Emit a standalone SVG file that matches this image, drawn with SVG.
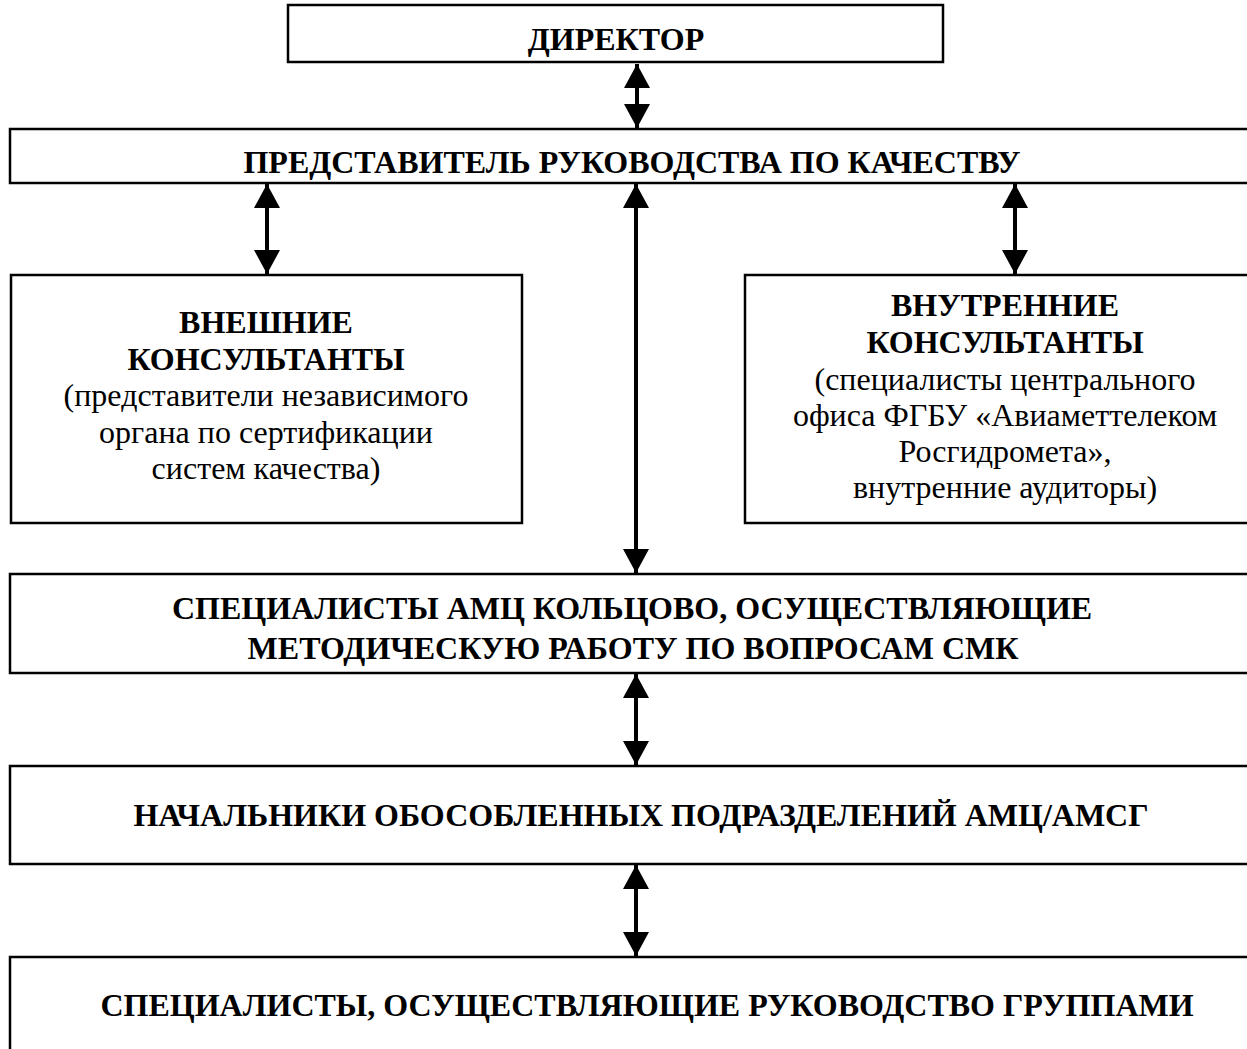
<svg xmlns="http://www.w3.org/2000/svg" width="1247" height="1049" viewBox="0 0 1247 1049">
<style>
.box{fill:#fff;stroke:#000;stroke-width:2.5}
.b{font-family:"Liberation Serif","Times New Roman",serif;font-weight:bold;font-size:32px;fill:#000;text-anchor:middle}
.r{font-family:"Liberation Serif","Times New Roman",serif;font-size:32px;fill:#000;text-anchor:middle}
.conn{stroke:#000;stroke-width:4;fill:none;marker-start:url(#ah);marker-end:url(#ah)}
</style>
<defs>
<marker id="ah" viewBox="0 0 24 26" refX="24" refY="13" markerWidth="24" markerHeight="26" markerUnits="userSpaceOnUse" orient="auto-start-reverse">
<path d="M0,0 L24,13 L0,26 z" fill="#000"/>
</marker>
</defs>
<rect width="1247" height="1049" fill="#fff"/>
<g id="director">
<rect class="box" x="288" y="5" width="655" height="57"/>
<text class="b" x="616" y="50">ДИРЕКТОР</text>
</g>
<g id="representative">
<rect class="box" x="10" y="129" width="1260" height="54"/>
<text class="b" x="632" y="173">ПРЕДСТАВИТЕЛЬ РУКОВОДСТВА ПО КАЧЕСТВУ</text>
</g>
<g id="external">
<rect class="box" x="11" y="275" width="511" height="248"/>
<text class="b" x="266" y="333">ВНЕШНИЕ</text>
<text class="b" x="266" y="370">КОНСУЛЬТАНТЫ</text>
<text class="r" x="266" y="406">(представители независимого</text>
<text class="r" x="266" y="443">органа по сертификации</text>
<text class="r" x="266" y="479">систем качества)</text>
</g>
<g id="internal">
<rect class="box" x="745" y="275" width="520" height="248"/>
<text class="b" x="1005" y="316">ВНУТРЕННИЕ</text>
<text class="b" x="1005" y="353">КОНСУЛЬТАНТЫ</text>
<text class="r" x="1005" y="390">(специалисты центрального</text>
<text class="r" x="1005" y="426">офиса ФГБУ «Авиаметтелеком</text>
<text class="r" x="1005" y="462">Росгидромета»,</text>
<text class="r" x="1005" y="498">внутренние аудиторы)</text>
</g>
<g id="methodists">
<rect class="box" x="10" y="574" width="1260" height="99"/>
<text class="b" x="632" y="619">СПЕЦИАЛИСТЫ АМЦ КОЛЬЦОВО, ОСУЩЕСТВЛЯЮЩИЕ</text>
<text class="b" x="633" y="659">МЕТОДИЧЕСКУЮ РАБОТУ ПО ВОПРОСАМ СМК</text>
</g>
<g id="heads">
<rect class="box" x="10" y="766" width="1260" height="98"/>
<text class="b" x="641" y="826">НАЧАЛЬНИКИ ОБОСОБЛЕННЫХ ПОДРАЗДЕЛЕНИЙ АМЦ/АМСГ</text>
</g>
<g id="group-leaders">
<rect class="box" x="10" y="957" width="1260" height="120"/>
<text class="b" x="647" y="1016">СПЕЦИАЛИСТЫ, ОСУЩЕСТВЛЯЮЩИЕ РУКОВОДСТВО ГРУППАМИ</text>
</g>
<g id="connectors">
<line class="conn" x1="637" y1="64" x2="637" y2="128"/>
<line class="conn" x1="267" y1="184" x2="267" y2="274"/>
<line class="conn" x1="636" y1="184" x2="636" y2="573"/>
<line class="conn" x1="1015" y1="184" x2="1015" y2="274"/>
<line class="conn" x1="636" y1="674" x2="636" y2="765"/>
<line class="conn" x1="636" y1="865" x2="636" y2="956"/>
</g>
</svg>
